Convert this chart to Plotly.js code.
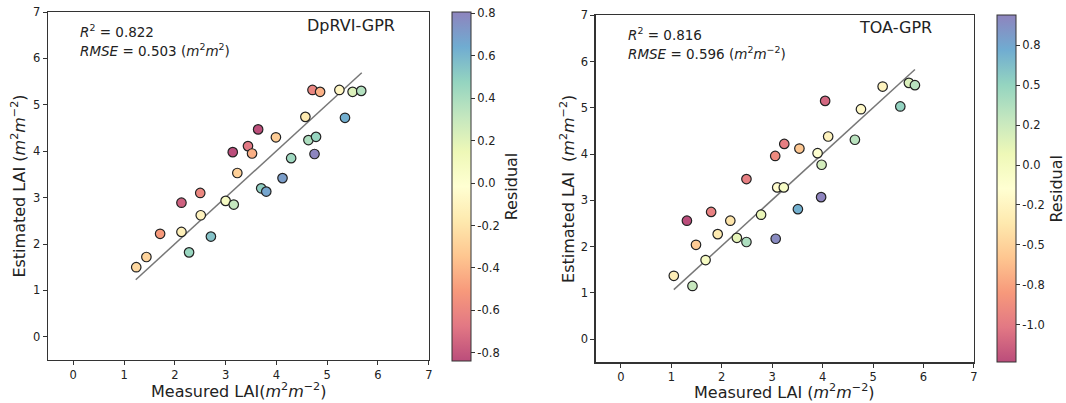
<!DOCTYPE html>
<html>
<head>
<meta charset="utf-8">
<script src="https://cdn.plot.ly/plotly-3.0.1.min.js"></script>
<style>html,body{margin:0;padding:0;background:#fff;}#chart{width:1066px;height:403px;}</style>
</head>
<body>
<div id="chart"></div>
<script>
// ---- Left panel: DpRVI-GPR ----
const dpMeasured = [1.24,1.44,1.71,2.13,2.13,2.28,2.51,2.71,3.00,3.16,2.50,3.14,3.23,3.44,3.52,3.64,3.99,3.70,3.80,4.12,4.29,4.57,4.63,4.78,4.75,4.71,4.86,5.24,5.35,5.50,5.67];
const dpEstimated = [1.50,1.72,2.22,2.89,2.26,1.82,2.62,2.16,2.93,2.85,3.10,3.98,3.53,4.11,3.95,4.47,4.30,3.20,3.13,3.42,3.85,4.74,4.24,4.31,3.94,5.32,5.28,5.32,4.72,5.28,5.30];
const dpResidual = [-0.26,-0.28,-0.51,-0.76,-0.13,0.46,-0.11,0.55,0.07,0.31,-0.60,-0.84,-0.30,-0.67,-0.43,-0.83,-0.31,0.50,0.67,0.70,0.44,-0.17,0.39,0.47,0.80,-0.61,-0.42,-0.08,0.63,0.22,0.37];
const dpLineX = [1.23, 5.68];
const dpLineY = [1.23, 5.69];
const dpResRange = [-0.838, 0.805];
const dpCbTicks = [-0.8,-0.6,-0.4,-0.2,0.0,0.2,0.4,0.6,0.8];
const dpCbText = ["-0.8","-0.6","-0.4","-0.2","0.0","0.2","0.4","0.6","0.8"];

// ---- Right panel: TOA-GPR ----
const toaMeasured = [1.05,1.42,1.31,1.49,1.68,1.79,1.92,2.17,2.30,2.49,2.78,3.07,3.51,2.49,3.06,3.24,3.54,3.10,3.23,4.05,3.90,3.98,4.11,4.76,4.64,3.97,5.19,5.54,5.71,5.83];
const toaEstimated = [1.37,1.15,2.56,2.04,1.71,2.75,2.27,2.56,2.19,2.10,2.69,2.17,2.81,3.46,3.96,4.22,4.12,3.28,3.28,5.15,4.02,3.77,4.38,4.97,4.31,3.07,5.46,5.03,5.54,5.49];
const toaResidual = [-0.32,0.27,-1.24,-0.55,-0.03,-0.96,-0.35,-0.39,0.11,0.39,0.09,0.90,0.70,-0.97,-0.90,-0.98,-0.58,-0.18,-0.05,-1.10,-0.12,0.21,-0.27,-0.21,0.33,0.94,-0.27,0.51,0.17,0.34];
const toaLineX = [1.05, 5.83];
const toaLineY = [1.07, 5.83];
const toaResRange = [-1.236, 0.938];
const toaCbTicks = [-1.0,-0.75,-0.5,-0.25,0.0,0.25,0.5,0.75];
const toaCbText = ["-1.0","-0.8","-0.5","-0.2","0.0","0.2","0.5","0.8"];

const axisTicks = [0,1,2,3,4,5,6,7];

// Spectral colormap blended with white (alpha ~0.7)
const spectral = ['#9e0142','#d53e4f','#f46d43','#fdae61','#fee08b','#ffffbf','#e6f598','#abdda4','#66c2a5','#3288bd','#5e4fa2'];
function blend(hex, a){
  const r=parseInt(hex.substr(1,2),16), g=parseInt(hex.substr(3,2),16), b=parseInt(hex.substr(5,2),16);
  const f=c=>Math.round(c*a+255*(1-a));
  return 'rgb('+f(r)+','+f(g)+','+f(b)+')';
}
const colorscale = spectral.map((c,i)=>[i/(spectral.length-1), blend(c,0.7)]);

const FONT = 'DejaVu Sans, sans-serif';
const unit = '(<i>m</i><sup>2</sup><i>m</i><sup>−2</sup>)';

function cb(x, ytop, len, ticks, text){
  return {x:x, xanchor:'left', y:ytop, yanchor:'top', len:len, lenmode:'fraction',
    thickness:19, xpad:0, ypad:0, outlinewidth:1, outlinecolor:'#333',
    ticks:'outside', ticklen:4, tickcolor:'#333', tickwidth:1,
    tickvals:ticks, ticktext:text, tickfont:{size:11.5, color:'#222', family:FONT},
    title:{text:'Residual', side:'right', font:{size:16, color:'#222', family:FONT}}};
}

const traces = [
  {x:dpLineX, y:dpLineY, type:'scatter', mode:'lines', line:{color:'#777', width:1.5}, xaxis:'x', yaxis:'y', hoverinfo:'skip', showlegend:false},
  {x:dpMeasured, y:dpEstimated, type:'scatter', mode:'markers', xaxis:'x', yaxis:'y', showlegend:false,
   marker:{size:9.5, color:dpResidual, colorscale:colorscale, cmin:dpResRange[0], cmax:dpResRange[1],
     line:{color:'#222', width:1.2}, showscale:true, colorbar:cb(453/1066, 1-12/403, 349/403, dpCbTicks, dpCbText)}},
  {x:toaLineX, y:toaLineY, type:'scatter', mode:'lines', line:{color:'#777', width:1.5}, xaxis:'x2', yaxis:'y2', hoverinfo:'skip', showlegend:false},
  {x:toaMeasured, y:toaEstimated, type:'scatter', mode:'markers', xaxis:'x2', yaxis:'y2', showlegend:false,
   marker:{size:9.5, color:toaResidual, colorscale:colorscale, cmin:toaResRange[0], cmax:toaResRange[1],
     line:{color:'#222', width:1.2}, showscale:true, colorbar:cb(1000/1066, 1-15.3/403, 347/403, toaCbTicks, toaCbText)}}
];

function ax(domain, anchor, title, standoff){
  const a = {domain:domain, anchor:anchor, range:[-0.5,7], tickvals:axisTicks, ticks:'outside', ticklen:4,
    tickcolor:'#333', tickwidth:1, showline:true, mirror:true, linecolor:'#333', linewidth:1.2,
    showgrid:false, zeroline:false, automargin:false, tickfont:{size:11.5, color:'#222', family:FONT}};
  if (title) a.title = {text:title, font:{size:16, color:'#222', family:FONT}, standoff:standoff};
  return a;
}

const layout = {
  width:1066, height:403, margin:{l:0,r:0,t:0,b:0}, paper_bgcolor:'#fff', plot_bgcolor:'#fff',
  font:{family:FONT, color:'#222'}, showlegend:false,
  xaxis: ax([48/1066, 430/1066], 'y', null, 0),
  yaxis: ax([1-360/403, 1-12/403], 'x', 'Estimated LAI '+unit, 3),
  xaxis2: ax([597.3/1066, 976.7/1066], 'y2', null, 0),
  yaxis2: ax([1-362.3/403, 1-15.3/403], 'x2', 'Estimated LAI  '+unit, 2),
  annotations:[
    // x-axis titles
    {xref:'paper', yref:'paper', x:240/1066, y:1-402/403, xanchor:'center', yanchor:'bottom', showarrow:false, borderpad:0,
     text:'Measured LAI'+unit, font:{size:16, color:'#222', family:FONT}},
    {xref:'paper', yref:'paper', x:786.7/1066, y:0, xanchor:'center', yanchor:'bottom', showarrow:false, borderpad:0,
     text:'Measured LAI '+unit, font:{size:16, color:'#222', family:FONT}},
    // statistics & labels
    {xref:'paper', yref:'paper', x:78/1066, y:1-31/403, xanchor:'left', yanchor:'middle', showarrow:false, align:'left',
     text:'<i>R</i><sup>2</sup> = 0.822', font:{size:13.5, color:'#222', family:FONT}},
    {xref:'paper', yref:'paper', x:78/1066, y:1-50/403, xanchor:'left', yanchor:'middle', showarrow:false, align:'left',
     text:'<i>RMSE</i> = 0.503 (<i>m</i><sup>2</sup><i>m</i><sup>2</sup>)', font:{size:13.5, color:'#222', family:FONT}},
    {xref:'paper', yref:'paper', x:398/1066, y:1-26/403, xanchor:'right', yanchor:'middle', showarrow:false,
     text:'DpRVI-GPR', font:{size:16, color:'#222', family:FONT}},
    {xref:'paper', yref:'paper', x:628/1066, y:1-34/403, xanchor:'left', yanchor:'middle', showarrow:false, align:'left',
     text:'<i>R</i><sup>2</sup> = 0.816', font:{size:13.5, color:'#222', family:FONT}},
    {xref:'paper', yref:'paper', x:628/1066, y:1-53/403, xanchor:'left', yanchor:'middle', showarrow:false, align:'left',
     text:'<i>RMSE</i> = 0.596 '+unit, font:{size:13.5, color:'#222', family:FONT}},
    {xref:'paper', yref:'paper', x:937/1066, y:1-28/403, xanchor:'right', yanchor:'middle', showarrow:false,
     text:'TOA-GPR', font:{size:16, color:'#222', family:FONT}}
  ]
};

Plotly.newPlot('chart', traces, layout, {displayModeBar:false, staticPlot:true});
</script>
</body>
</html>
